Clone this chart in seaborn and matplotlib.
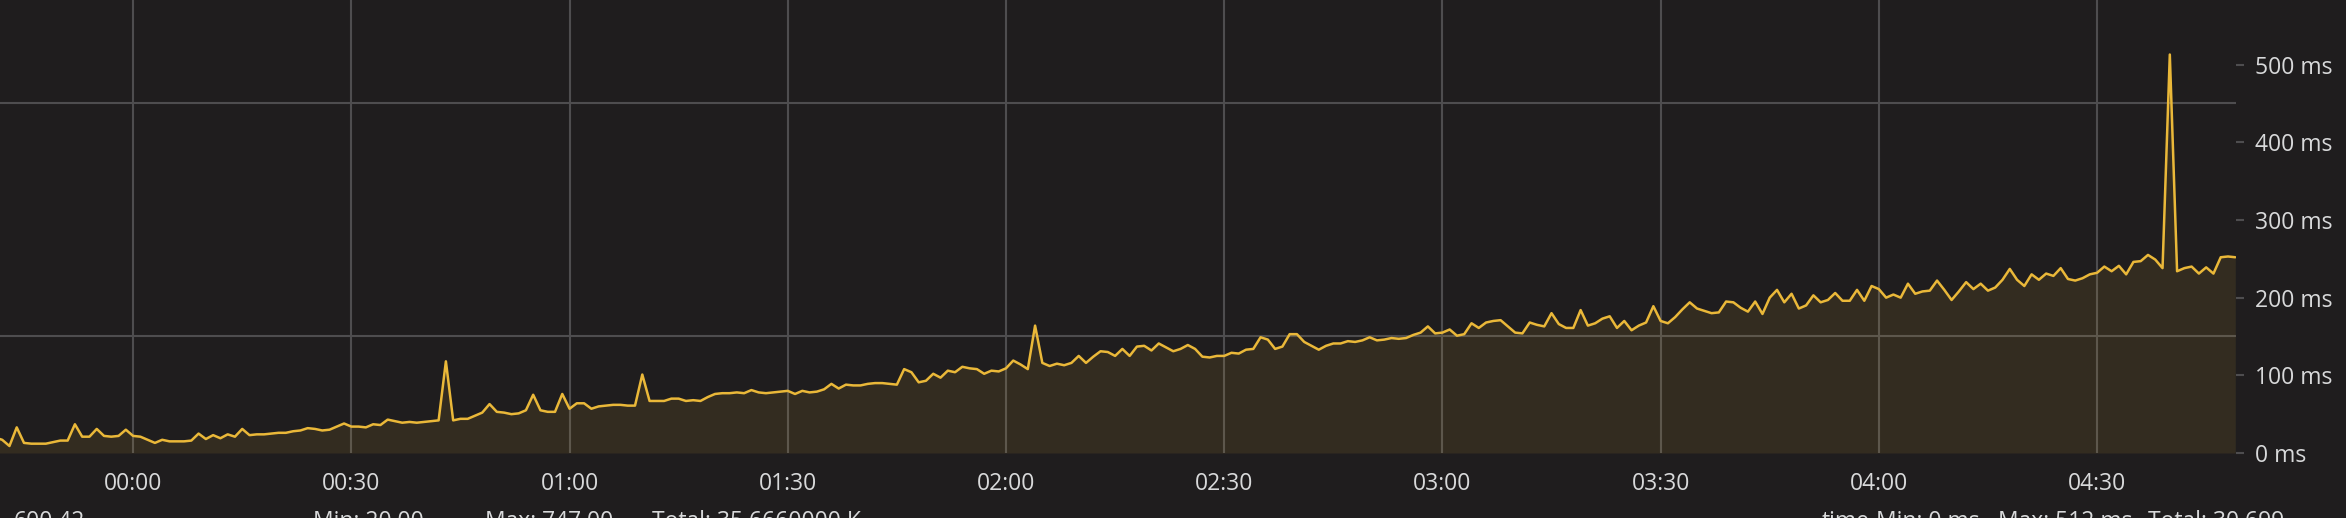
import numpy as np
import pandas as pd
import matplotlib
matplotlib.use("Agg")
import matplotlib.pyplot as plt
import seaborn as sns

# ---- data (one sample per minute, minutes relative to 00:00) ----
start_minute = -19
latency_a = [20, 17, 9, 33, 13, 12, 12, 12, 14, 16, 16, 37, 21, 21, 31, 22, 21, 22, 30,
             22, 21, 17, 13, 17, 15, 15, 15, 16, 25, 18, 23, 19, 24, 21, 31, 23, 24, 24, 25,
             26, 26, 28, 29, 32, 31, 29, 30, 34, 38, 34, 34, 33, 37, 36, 43, 41, 39, 40, 39,
             40, 41, 42, 118, 42, 44]
latency_b = [44, 48, 52, 63, 53, 52, 50, 51, 55, 75, 55, 53, 53, 76, 57, 64, 64, 57, 60,
             61, 62, 62, 61, 61, 101, 67, 67, 67, 70, 70, 67, 68, 67, 72, 76, 77, 77, 78, 77,
             81, 78, 77, 78, 79, 80, 76, 80, 78, 79, 82, 89, 83, 88, 87, 87, 89, 90, 90, 89,
             88, 108, 104]
latency_c = [91, 93, 102, 97, 106, 104, 111, 109, 108, 102, 106, 105, 109, 119, 114, 108,
             164, 116, 112, 115, 113, 116, 125, 116, 124, 131, 130, 125, 134, 125, 137, 138,
             132, 141, 136, 131, 134, 139, 134, 124, 123, 125, 125, 129, 128, 133, 134, 149,
             146, 134, 137, 153, 153, 143, 138, 133, 138, 141, 141, 144, 143]
latency_d = [145, 149, 145, 146, 148, 147, 148, 152, 155, 163, 154, 155, 159, 151, 153, 167,
             161, 168, 170, 171, 163, 155, 154, 168, 165, 163, 180, 166, 161, 161, 184, 164,
             167, 173, 176, 161, 170, 158, 164, 168, 189, 170, 167, 175, 185, 194, 186, 183,
             180, 181, 195, 194, 187, 182, 195, 179, 200, 210, 194, 205]
latency_e = [186, 190, 203, 194, 197, 206, 196, 196, 210, 196, 215, 211, 200, 204, 200, 218,
             205, 208, 209, 222, 210, 197, 208, 220, 211, 218, 209, 213, 223, 237, 223, 215,
             230, 223, 231, 228, 238, 224, 222, 225, 230, 232, 240, 234, 241, 230, 246, 247,
             255, 249, 238, 513, 234, 238, 240, 231, 239, 231, 252, 253, 252]

x_tick_minutes = [0, 30, 60, 90, 120, 150, 180, 210, 240, 270]
x_tick_labels = ["00:00", "00:30", "01:00", "01:30", "02:00", "02:30", "03:00", "03:30", "04:00", "04:30"]
y_tick_values = [0, 100, 200, 300, 400, 500]
y_grid_values = [0, 150, 300, 450]
legend_left = ["600.42", "Min: 20.00", "Max: 747.00", "Total: 35.6660000 K"]
legend_right = ["time", "Min: 0 ms", "Max: 512 ms", "Total: 30.699"]

latency = latency_a + latency_b + latency_c + latency_d + latency_e
minutes = np.arange(start_minute, start_minute + len(latency))
df = pd.DataFrame({"minute": minutes, "latency": latency})

# ---- style ----
BG = "#1f1d1e"
LINE = "#eab839"
GRID = "#4e4d4f"
TXT = "#d8d9da"

sns.set_theme(style="dark")
plt.rcParams["font.family"] = ["Open Sans", "DejaVu Sans"]

W, H = 2346, 518
fig = plt.figure(figsize=(W / 100, H / 100), dpi=100, facecolor=BG)
ax = fig.add_axes([0, 65 / H, 2236 / W, 453 / H])
ax.set_facecolor(BG)

ax.fill_between(df["minute"], df["latency"], 0, color=LINE, alpha=0.1, linewidth=0, zorder=1)
sns.lineplot(data=df, x="minute", y="latency", ax=ax, color=LINE, linewidth=1.8, zorder=3)

ax.set_xlim(-18.3, 289.1)
ax.set_ylim(0, 583.2)

for s in ax.spines.values():
    s.set_visible(False)

ax.set_xticks(x_tick_minutes)
ax.set_xticklabels(x_tick_labels)
ax.tick_params(axis="x", length=0, pad=14, labelsize=16.5, labelcolor=TXT)
ax.grid(axis="x", color=GRID, linewidth=1.5, zorder=2)

ax.yaxis.tick_right()
ax.set_yticks(y_tick_values)
ax.set_yticklabels([f"{v} ms" for v in y_tick_values])
ax.set_yticks(y_grid_values, minor=True)
ax.tick_params(axis="y", which="major", length=6, width=1.5, color=GRID, pad=8,
               labelsize=16.5, labelcolor=TXT)
ax.tick_params(axis="y", which="minor", length=0)
ax.grid(axis="y", which="major", visible=False)
ax.grid(axis="y", which="minor", color=GRID, linewidth=1.5, zorder=2)
ax.set_axisbelow(True)
ax.set_xlabel("")
ax.set_ylabel("")

# legend row (cut off by the bottom edge as in the reference)
left_pos = [14, 313, 485, 652]
right_pos = [1822, 1876, 1998, 2148]
for txt, px in zip(legend_left, left_pos):
    fig.text(px / W, (H - 510) / H, txt, color=TXT, fontsize=16.5, va="top", ha="left")
for txt, px in zip(legend_right, right_pos):
    fig.text(px / W, (H - 510) / H, txt, color=TXT, fontsize=16.5, va="top", ha="left")

fig.savefig("out.png", dpi=100, facecolor=BG)
